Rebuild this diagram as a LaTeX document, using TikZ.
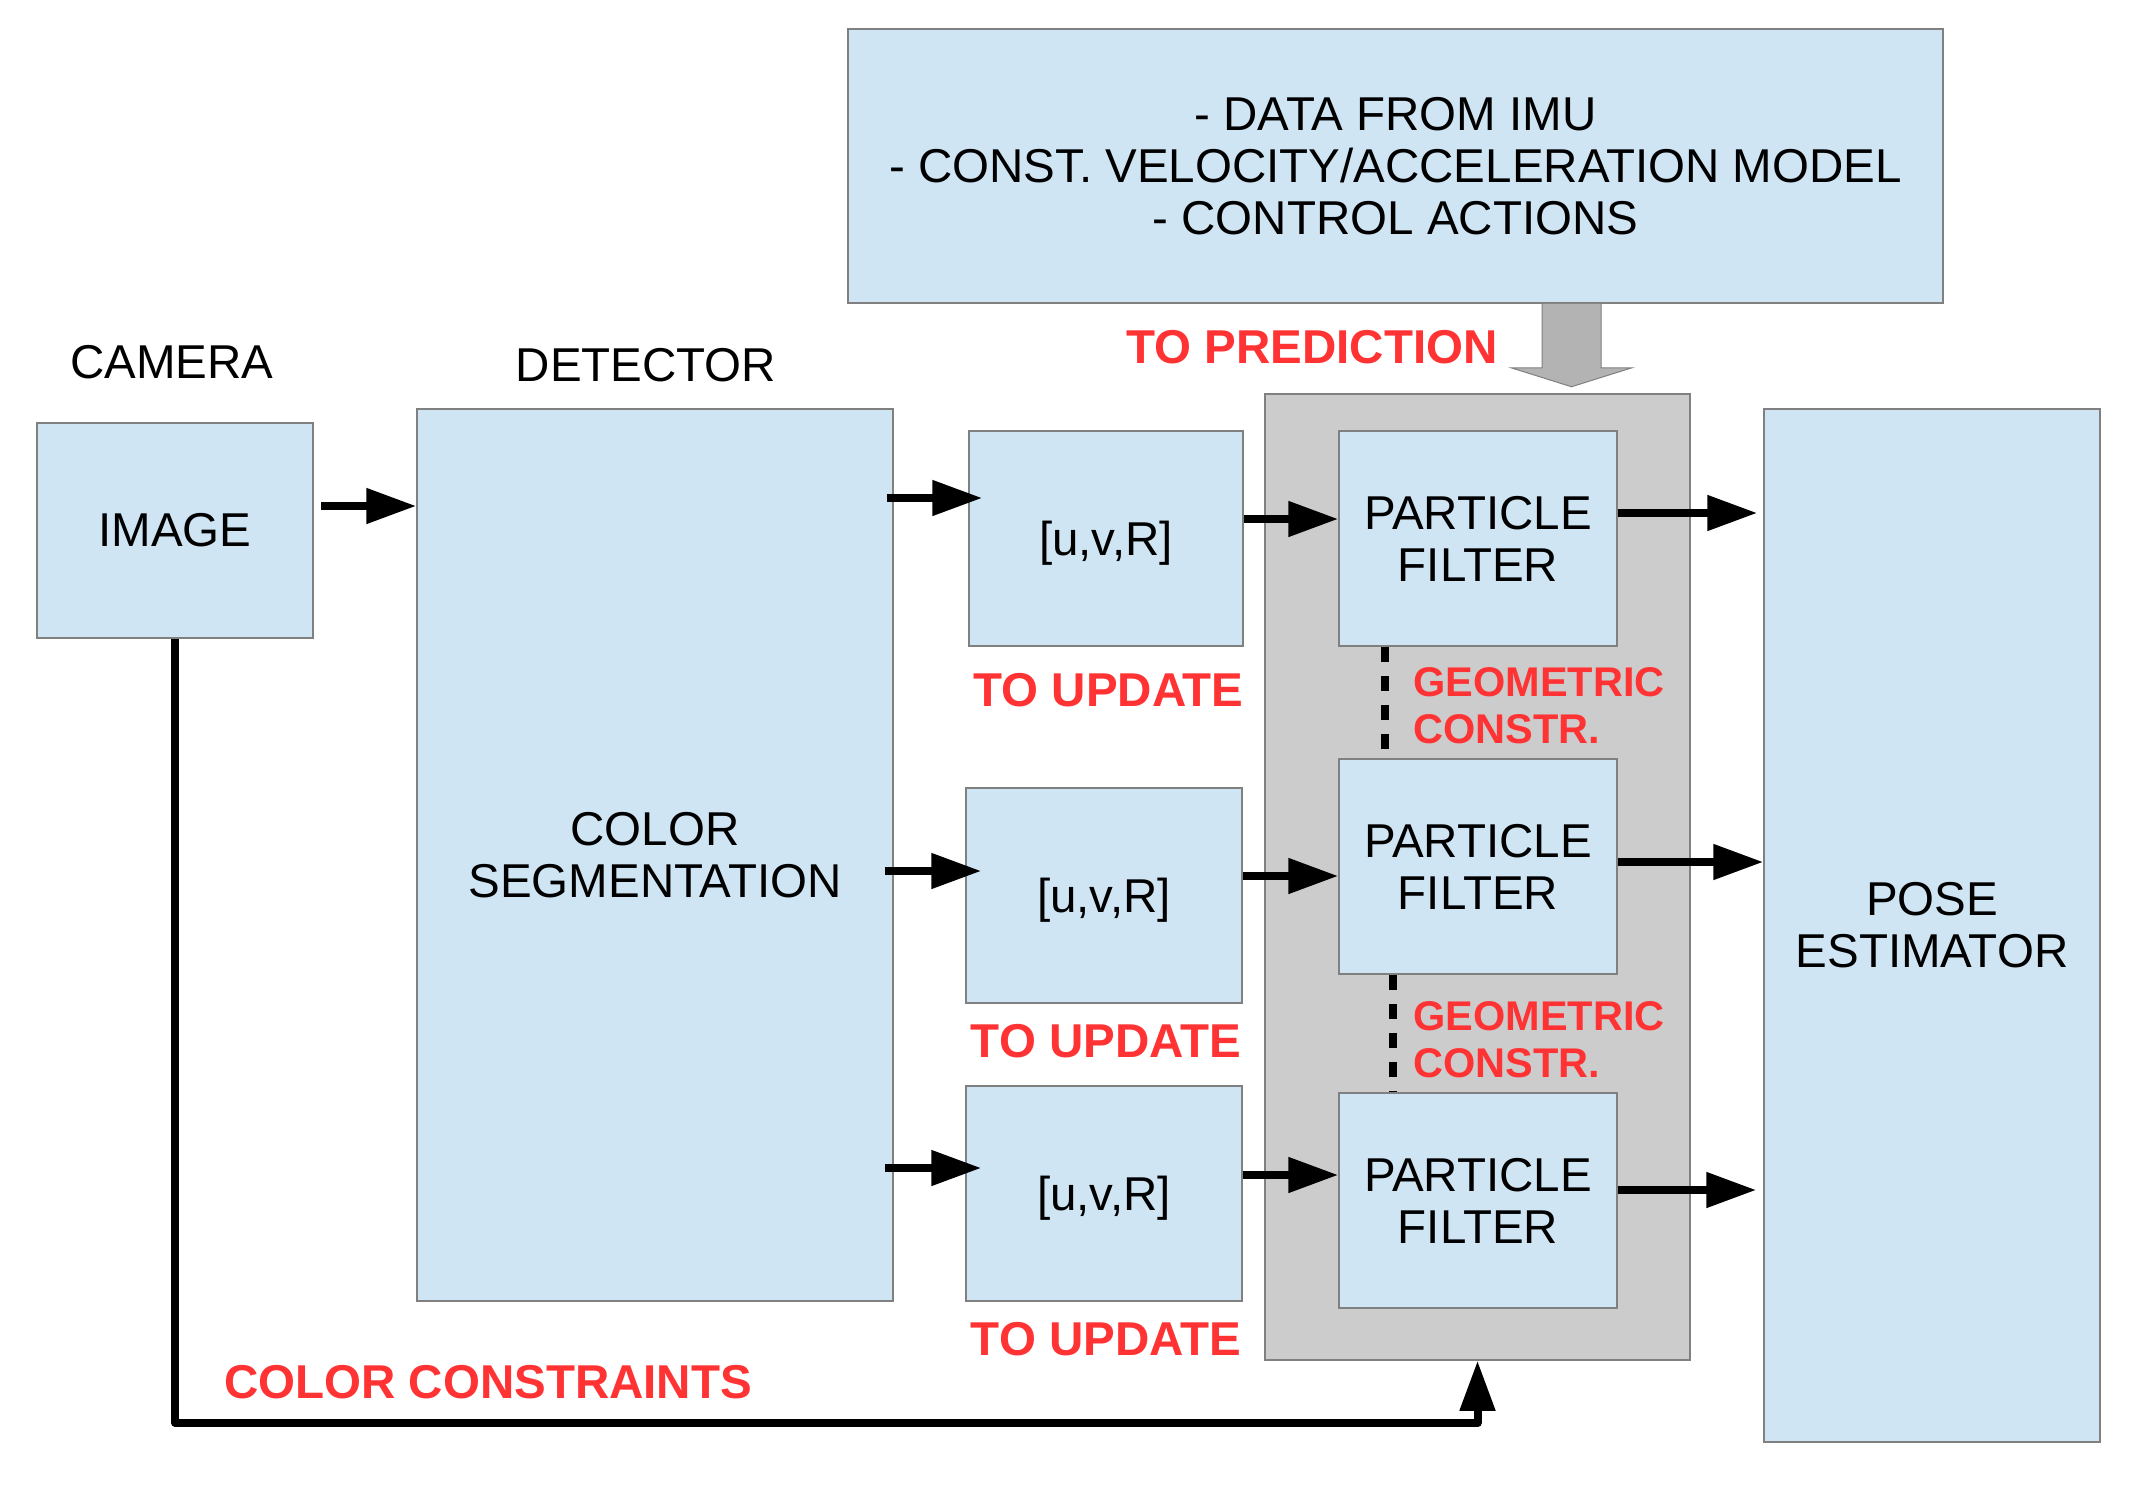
\documentclass[tikz,border=0pt]{standalone}
\usepackage{fontspec}
\setmainfont{Liberation Sans}
\usetikzlibrary{arrows.meta,calc}
\definecolor{boxblue}{RGB}{207,229,243}
\definecolor{boxline}{RGB}{128,128,128}
\definecolor{panelgray}{RGB}{204,204,204}
\definecolor{arrowgray}{RGB}{179,179,179}
\definecolor{labelred}{RGB}{255,51,51}
\begin{document}
\begin{tikzpicture}[x=1pt,y=-1pt,
  blk/.style={draw=boxline, fill=boxblue, line width=1.5pt, inner sep=0pt, align=center,
              font=\fontsize{47.5}{52}\selectfont},
  uvbox/.style={blk, minimum width=276pt, minimum height=215pt, text depth=0pt},
  pfbox/.style={blk, minimum width=278pt, minimum height=215pt},
  plain/.style={inner sep=0pt, font=\fontsize{47.5}{52}\selectfont},
  redlbl/.style={inner sep=0pt, text=labelred, font=\fontsize{47.5}{52}\selectfont\bfseries},
  geolbl/.style={inner sep=0pt, text=labelred, align=left, font=\fontsize{41.5}{47}\selectfont\bfseries},
  arr/.style={line width=8pt, -{Triangle[length=50pt,width=34pt]}},
  dashline/.style={line width=8pt, dash pattern=on 15pt off 14pt}
]
\fill[white] (0,0) rectangle (2152,1498);
\useasboundingbox (0,0) rectangle (2152,1498);

% panel
\node[draw=boxline, fill=panelgray, line width=1.5pt, minimum width=425pt, minimum height=966pt, inner sep=0pt] (panel) at (1477.5,877) {};

% boxes
\node[blk, minimum width=1095pt, minimum height=274pt] (imu) at (1395.5,166)
  {- DATA FROM IMU\\- CONST. VELOCITY/ACCELERATION MODEL\\- CONTROL ACTIONS};
\node[blk, minimum width=276pt, minimum height=215pt] (image) at (175,530.5) {IMAGE};
\node[blk, minimum width=476pt, minimum height=892pt] (det) at (655,855) {COLOR\\SEGMENTATION};
\node[uvbox, minimum width=274pt] (u1) at (1106,538.5) {[u,v,R]};
\node[uvbox] (u2) at (1104,895.5) {[u,v,R]};
\node[uvbox] (u3) at (1104,1193.5) {[u,v,R]};
\node[pfbox] (pf1) at (1478,538.5) {PARTICLE\\FILTER};
\node[pfbox] (pf2) at (1478,866.5) {PARTICLE\\FILTER};
\node[pfbox] (pf3) at (1478,1200.5) {PARTICLE\\FILTER};
\node[blk, minimum width=336pt, minimum height=1033pt] (pose) at (1932,925.5) {POSE\\ESTIMATOR};

% big gray arrow
\coordinate (gatop) at ($(imu.south)+(176,0)$);
\draw[draw=boxline, fill=arrowgray, line width=1pt]
  ($(gatop)+(-29.5,0)$) -- ++(0,64) -- ++(-31,0) -- ($(gatop)+(0,83)$)
  -- ($(gatop)+(60.5,64)$) -- ++(-31,0) -- ($(gatop)+(29.5,0)$);

% titles and labels
\node[plain, anchor=base] (camlbl) at (172,378) {CAMERA};
\node[plain, anchor=base] (detlbl) at (646,381) {DETECTOR};
\node[redlbl, anchor=base] (predlbl) at (1312,363) {TO PREDICTION};
\node[redlbl, anchor=base] (up1) at (1108.5,706) {TO UPDATE};
\node[redlbl, anchor=base] (up2) at (1106,1057) {TO UPDATE};
\node[redlbl, anchor=base] (up3) at (1106,1355) {TO UPDATE};
\node[redlbl, anchor=base] (cclbl) at (488,1398) {COLOR CONSTRAINTS};
\node[geolbl, anchor=north west] (geo1) at (1413,667) {GEOMETRIC\\CONSTR.};
\node[geolbl, anchor=north west] (geo2) at (1413,1001) {GEOMETRIC\\CONSTR.};

% arrows
\draw[arr] ($(image.east)+(7,-24.5)$) coordinate (s0) -- (s0 -| det.west);
\draw[arr] ($(det.east|-u1.west)+(-7,-40.5)$) -- ($(u1.west)+(14,-40.5)$);
\draw[arr] ($(u1.east|-pf1.west)+(0,-19.5)$) -- ($(pf1.west)+(0,-19.5)$);
\draw[arr] ($(pf1.east)+(0,-25.5)$) -- ($(pose.west|-pf1.east)+(-6,-25.5)$);
\draw[arr] ($(det.east|-u2.west)+(-9,-24.5)$) -- ($(u2.west)+(16,-24.5)$);
\draw[arr] ($(u2.east|-pf2.west)+(0,9.5)$) -- ($(pf2.west)+(0,9.5)$);
\draw[arr] ($(pf2.east)+(0,-4.5)$) -- ($(pose.west|-pf2.east)+(0,-4.5)$);
\draw[arr] ($(det.east|-u3.west)+(-9,-25.5)$) -- ($(u3.west)+(16,-25.5)$);
\draw[arr] ($(u3.east|-pf3.west)+(0,-25.5)$) -- ($(pf3.west)+(0,-25.5)$);
\draw[arr] ($(pf3.east)+(0,-10.5)$) -- ($(pose.west|-pf3.east)+(-7,-10.5)$);
\draw[arr, line join=round] (image.south) -- ++(0,784) -| (panel.south);

% geometric constraint links
\draw[dashline] ($(pf1.south)+(-93,0)$) -- ($(pf2.north)+(-93,0)$);
\draw[dashline] ($(pf2.south)+(-85,0)$) -- ($(pf3.north)+(-85,0)$);
\end{tikzpicture}
\end{document}
